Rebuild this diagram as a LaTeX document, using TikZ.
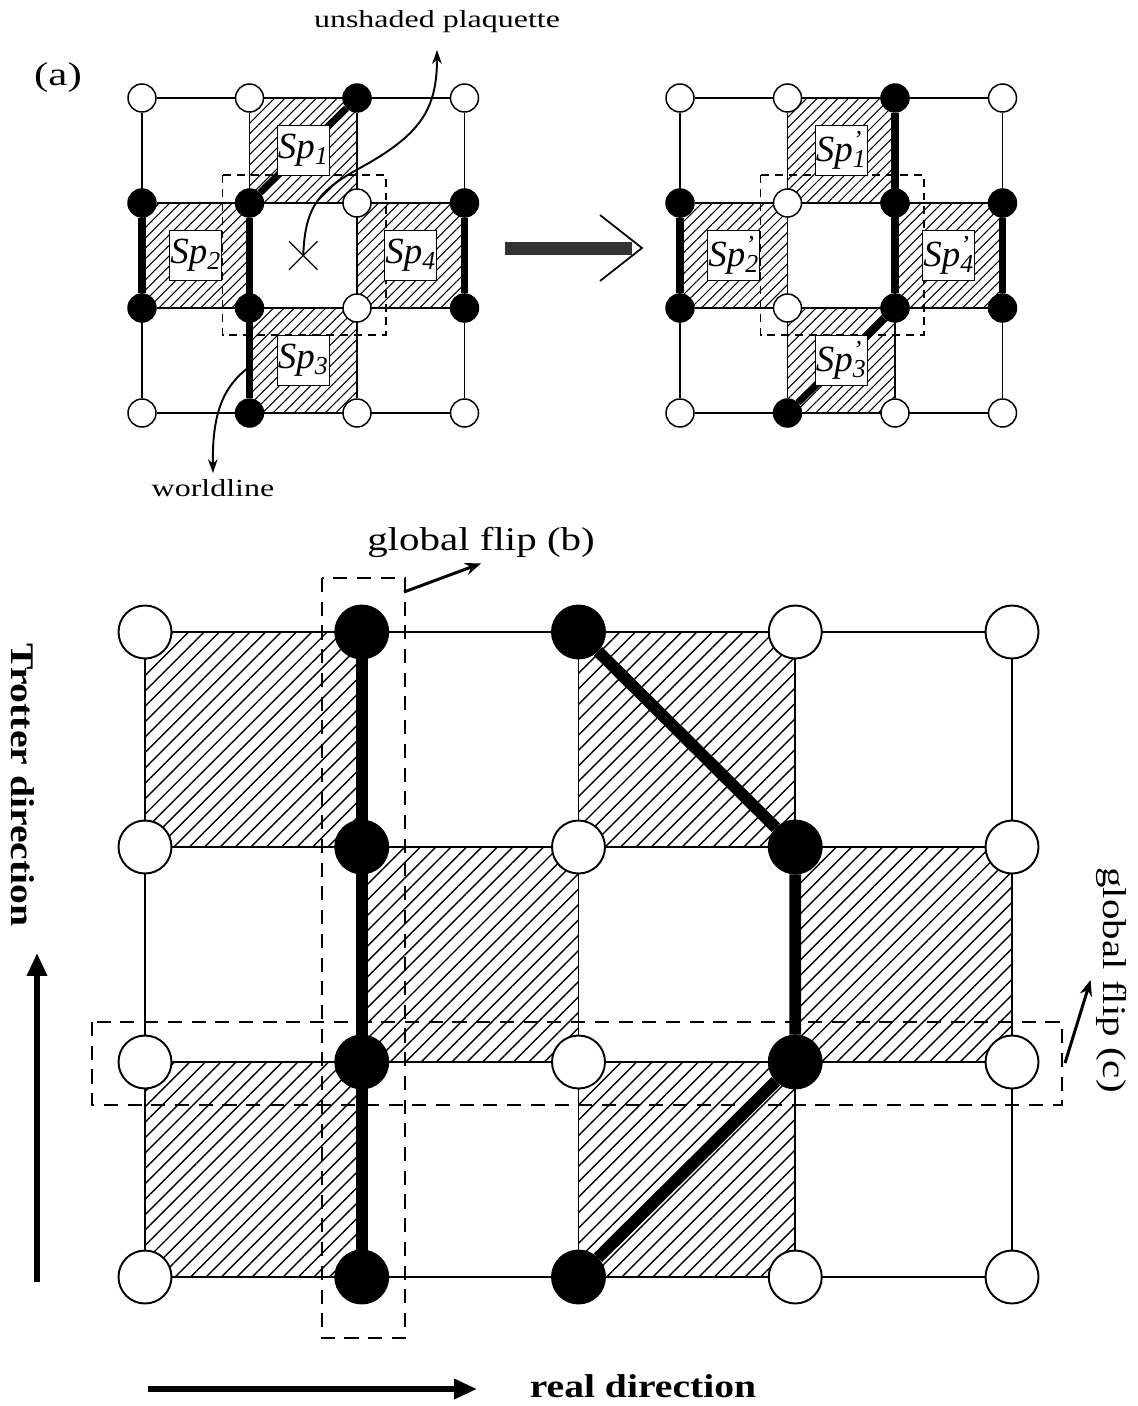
\documentclass[tikz,border=0pt]{standalone}
\usepackage{fontspec}
\setmainfont{Liberation Serif}
\usepackage{graphicx}
\usetikzlibrary{arrows.meta,patterns.meta,backgrounds,calc,shapes.misc}

\newcommand\wide[2][1.2]{\scalebox{#1}[1]{#2}}
\newcommand\plaq[2][]{\textit{Sp}\rlap{\textsuperscript{\textit{#1}}}\textsubscript{\textit{#2}}}

\begin{document}
\begin{tikzpicture}
[x=0.02cm,y=-0.02cm
,site/.style={circle,draw,line width=0.85pt,minimum size=0.56cm,inner sep=0pt}
,emp/.style={site,fill=white}
,occ/.style={site,fill=black}
,bsite/.style={circle,draw,line width=1.1pt,minimum size=1.06cm,inner sep=0pt}
,bemp/.style={bsite,fill=white}
,bocc/.style={bsite,fill=black}
,bond/.style={line width=0.85pt}
,bbond/.style={line width=1.1pt}
,wl/.style={line width=4pt}
,bwl/.style={line width=6.8pt}
,hatch/.style={pattern={Lines[angle=45,distance=4.2pt,line width=0.6pt]}}
,bhatch/.style={pattern={Lines[angle=45,distance=6.2pt,line width=0.8pt]}}
,flipbox/.style={line width=0.85pt,dash pattern=on 4.5pt off 3.4pt}
,bflipbox/.style={line width=1.1pt,dash pattern=on 8pt off 5.5pt}
,plaqbox/.style={draw,fill=white,line width=0.8pt,minimum width=1.04cm,minimum height=1cm,inner sep=0pt,font=\fontsize{21}{25}\selectfont}
,note/.style={font=\fontsize{14}{16}\selectfont}
,big/.style={font=\fontsize{18.8}{22}\selectfont}
,bigbf/.style={font=\fontsize{18.8}{22}\selectfont\bfseries}
,lead/.style={line width=1.1pt,-{Stealth[length=8pt,width=5.5pt]}}
,pointer/.style={line width=1.7pt,-{Stealth[length=9pt,width=7pt]}}
,dirarrow/.style={line width=3pt,-{Triangle[length=13pt,width=11pt]}}
]
\useasboundingbox (0,0) rectangle (1137,1406);

\foreach \c/\r/\s in {0/0/emp,1/0/emp,2/0/occ,3/0/emp,0/1/occ,1/1/occ,2/1/emp,3/1/occ,
                      0/2/occ,1/2/occ,2/2/emp,3/2/occ,0/3/emp,1/3/occ,2/3/emp,3/3/emp}
  \node[\s] (l\c\r) at ({142+107.5*\c},{98+105*\r}) {};
\foreach \c/\r/\s in {0/0/emp,1/0/emp,2/0/occ,3/0/emp,0/1/occ,1/1/emp,2/1/occ,3/1/occ,
                      0/2/occ,1/2/emp,2/2/occ,3/2/occ,0/3/emp,1/3/occ,2/3/emp,3/3/emp}
  \node[\s] (r\c\r) at ({680+107.5*\c},{98+105*\r}) {};
\foreach \c/\r/\s in {0/0/bemp,1/0/bocc,2/0/bocc,3/0/bemp,4/0/bemp,
                      0/1/bemp,1/1/bocc,2/1/bemp,3/1/bocc,4/1/bemp,
                      0/2/bemp,1/2/bocc,2/2/bemp,3/2/bocc,4/2/bemp,
                      0/3/bemp,1/3/bocc,2/3/bocc,3/3/bemp,4/3/bemp}
  \node[\s] (b\c\r) at ({145+216.75*\c},{632+215*\r}) {};

\begin{scope}[on background layer]
\foreach \p in {l,r}{
  \fill[hatch] (\p10.center) rectangle (\p21.center);
  \fill[hatch] (\p01.center) rectangle (\p12.center);
  \fill[hatch] (\p21.center) rectangle (\p32.center);
  \fill[hatch] (\p12.center) rectangle (\p23.center);
  \foreach \k in {0,...,3}{
    \draw[bond] (\p0\k) -- (\p3\k);
    \draw[bond] (\p\k0) -- (\p\k3);
  }
  \draw[flipbox] ([shift={(-27,-28)}]\p11.center) rectangle ([shift={(29,27)}]\p22.center);
  \draw[wl] (\p01) -- (\p02);
  \draw[wl] (\p31) -- (\p32);
}
\draw[wl] (l20) -- (l11);
\draw[wl] (l11) -- (l13);
\draw[wl] (r20) -- (r22);
\draw[wl] (r22) -- (r13);

\fill[bhatch] (b00.center) rectangle (b11.center);
\fill[bhatch] (b20.center) rectangle (b31.center);
\fill[bhatch] (b11.center) rectangle (b22.center);
\fill[bhatch] (b31.center) rectangle (b42.center);
\fill[bhatch] (b02.center) rectangle (b13.center);
\fill[bhatch] (b22.center) rectangle (b33.center);
\foreach \k in {0,...,3} \draw[bbond] (b0\k) -- (b4\k);
\foreach \k in {0,...,4} \draw[bbond] (b\k0) -- (b\k3);
\draw[bflipbox] ([shift={(-40,-54)}]b10.center) rectangle ([shift={(43,61)}]b13.center);
\draw[bflipbox] ([shift={(-53,-40)}]b02.center) rectangle ([shift={(50,43)}]b42.center);
\draw[bwl] (b10) -- (b13);
\draw[bwl] (b20) -- (b31) -- (b32) -- (b23);
\end{scope}

\node[plaqbox] (sp1) at ($(l10)!0.5!(l21)$) {\plaq{1}};
\node[plaqbox] (sp2) at ($(l01)!0.5!(l12)$) {\plaq{2}};
\node[plaqbox] (sp3) at ($(l12)!0.5!(l23)$) {\plaq{3}};
\node[plaqbox] (sp4) at ($(l21)!0.5!(l32)$) {\plaq{4}};
\node[plaqbox] (sq1) at ($(r10)!0.5!(r21)$) {\plaq[']{1}};
\node[plaqbox] (sq2) at ($(r01)!0.5!(r12)$) {\plaq[']{2}};
\node[plaqbox] (sq3) at ($(r12)!0.5!(r23)$) {\plaq[']{3}};
\node[plaqbox] (sq4) at ($(r21)!0.5!(r32)$) {\plaq[']{4}};
\node[draw,cross out,line width=0.8pt,minimum size=0.54cm,inner sep=0pt] (flip) at ($(l11)!0.5!(l22)$) {};

\node[big] (tag) at (58,78) {\wide[1.3]{(a)}};
\node[note] (unsh) at (437,22) {\wide[1.3]{unshaded plaquette}};
\node[note] (wltxt) at (213,488) {\wide[1.3]{worldline}};
\draw[lead,shorten >=6pt] (flip.center) .. controls (305,205) and (320,190) .. (360,168)
  .. controls (420,135) and (437,110) .. (unsh.south);
\coordinate (wlpt) at ($(l12)!0.56!(l13)$);
\draw[lead] (wlpt) .. controls (225,385) and (212,410) .. (wltxt.north);

\coordinate (mvA) at (505,248);
\coordinate (mvB) at (642,248);
\draw[line width=7.4pt,black!80] (mvA) -- ([shift={(-10,0)}]mvB);
\draw[line width=1pt] ([shift={(-42,-33)}]mvB) -- (mvB) -- ([shift={(-42,33)}]mvB);

\node[big] (fb) at (481,542) {\wide[1.24]{global flip (b)}};
\node[big,rotate=-90] (fc) at (1112,980) {\wide[1.24]{global flip (c)}};
\coordinate (fbA) at (404,592);
\coordinate (fcA) at (1065,1063);
\draw[pointer] (fbA) -- (fb.south);
\draw[pointer] (fcA) -- (fc.south);

\node[bigbf,rotate=-90] (trot) at (23,785) {\wide{Trotter direction}};
\node[bigbf] (real) at (643,1386) {\wide{real direction}};
\coordinate (trA) at (37,1282);
\coordinate (trB) at (37,953);
\coordinate (reA) at (148,1389);
\coordinate (reB) at (477,1389);
\draw[dirarrow] (trA) -- (trB);
\draw[dirarrow] (reA) -- (reB);
\end{tikzpicture}
\end{document}
